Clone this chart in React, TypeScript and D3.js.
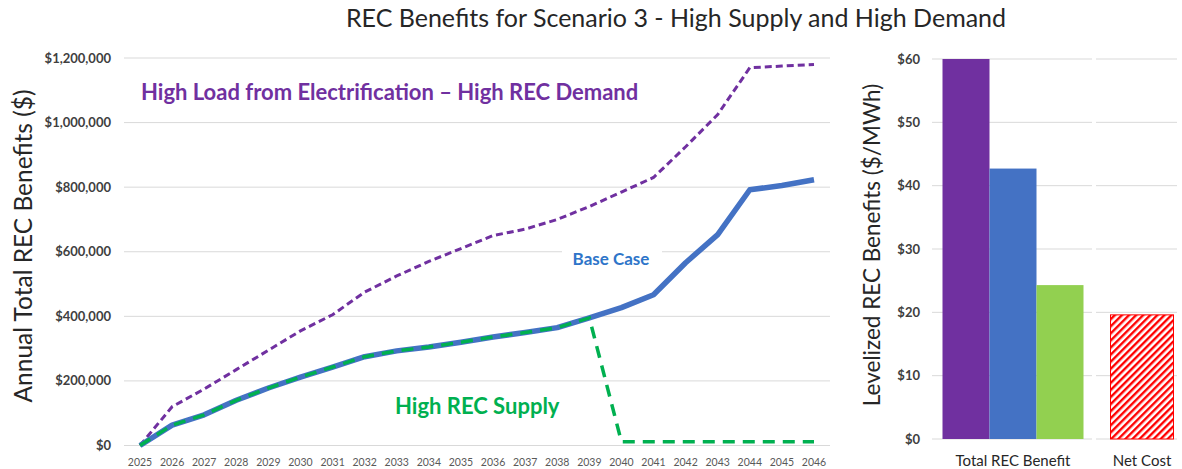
import React from "react";
import * as d3 from "d3";

const years = ["2025", "2026", "2027", "2028", "2029", "2030", "2031", "2032", "2033", "2034", "2035",
  "2036", "2037", "2038", "2039", "2040", "2041", "2042", "2043", "2044", "2045", "2046"];

// annual total REC benefits ($)
const highDemand = [0, 120000, 175000, 235000, 295000, 355000, 405000, 475000, 525000, 570000, 610000,
  650000, 670000, 700000, 740000, 785000, 830000, 925000, 1025000, 1170000, 1175000, 1180000];
const baseCase = [0, 63000, 95000, 140000, 178000, 212000, 243000, 275000, 293000, 305000, 320000,
  336000, 350000, 365000, 395000, 427000, 467000, 566000, 653000, 792000, 805000, 823000];
const highSupply = [0, 63000, 95000, 140000, 178000, 212000, 243000, 275000, 293000, 305000, 320000,
  336000, 350000, 365000, 395000, 12000, 12000, 12000, 12000, 12000, 12000, 12000];

const leftTicks = [0, 200000, 400000, 600000, 800000, 1000000, 1200000];

// levelized ($/MWh)
const barCategories = ["Total REC Benefit", "Net Cost"];
const benefitSeries = ["High Load", "Base Case", "High REC Supply"];
const benefitValues = [60, 42.7, 24.3];
const netCost = 19.6;
const rightTicks = [0, 10, 20, 30, 40, 50, 60];

const font = "Lato, 'Open Sans', sans-serif";
const purple = "#7030A0";
const blue = "#4472C4";
const green = "#00B050";
const barColors = ["#7030A0", "#4472C4", "#92D050"];
const grid = "#D9D9D9";

const App = () => {
  const W = 1182, H = 469;
  const L = { left: 124, right: 830, top: 58, bottom: 445.5 };
  const R = { left: 932, right: 1177, top: 59, bottom: 439 };

  const x = d3.scalePoint<string>().domain(years).range([L.left + 16, L.right - 16]);
  const y = d3.scaleLinear().domain([0, 1200000]).range([L.bottom, L.top]);

  const line = (vals: number[]) =>
    d3.line<number>()
      .x((d, i) => x(years[i]) as number)
      .y(d => y(d))(vals) as string;

  const yR = d3.scaleLinear().domain([0, 60]).range([R.bottom, R.top]);
  const xR = d3.scalePoint<string>().domain(barCategories).range([R.left + 81, R.right - 35]);
  const sub = d3.scaleBand<string>().domain(benefitSeries).range([-70.5, 70.5]);
  const netW = 63;

  const fmt = d3.format(",");

  return (
    <svg width={W} height={H} style={{ position: "absolute", left: 0, top: 0, background: "#fff" }}>
      <defs>
        <pattern id="hatch" patternUnits="userSpaceOnUse" width="5" height="5" patternTransform="rotate(45)">
          <rect width="5" height="5" fill="#fff" />
          <rect width="2.4" height="5" fill="#FF0000" />
        </pattern>
      </defs>

      <text x={676} y={27} textAnchor="middle" fontFamily={font} fontSize={25} fill="#262626">
        REC Benefits for Scenario 3 - High Supply and High Demand
      </text>

      {/* left chart */}
      {leftTicks.map(t => (
        <g key={t}>
          <line x1={L.left} x2={L.right} y1={y(t)} y2={y(t)} stroke={grid} strokeWidth={1} />
          <text x={111} y={y(t)} dy="0.35em" textAnchor="end" fontFamily={font} fontWeight="bold"
            fontSize={13} fill="#404040">${fmt(t)}</text>
        </g>
      ))}
      {years.map(yr => (
        <text key={yr} x={x(yr)} y={466} textAnchor="middle" fontFamily={font} fontSize={10.5}
          fill="#595959">{yr}</text>
      ))}
      <text transform={`translate(32,246) rotate(-90)`} textAnchor="middle"
        fontFamily={font} fontSize={24.5} fill="#262626">Annual Total REC Benefits ($)</text>

      <path d={line(highDemand)} fill="none" stroke={purple} strokeWidth={3} strokeDasharray="7,4" />
      <path d={line(baseCase)} fill="none" stroke={blue} strokeWidth={5.5} strokeLinejoin="round" />
      <path d={line(highSupply)} fill="none" stroke={green} strokeWidth={3.5} strokeDasharray="12,8" />

      <text x={141} y={100} fontFamily={font} fontWeight="bold" fontSize={22} fill={purple}>
        High Load from Electrification – High REC Demand
      </text>
      <rect x={562} y={247} width={100} height={24} fill="#fff" />
      <text x={611} y={265} textAnchor="middle" fontFamily={font} fontWeight="bold" fontSize={17}
        fill="#2E75C9">Base Case</text>
      <text x={395} y={414} fontFamily={font} fontWeight="bold" fontSize={22} fill={green}>
        High REC Supply
      </text>

      {/* right chart */}
      {rightTicks.map(t => (
        <g key={t}>
          <line x1={R.left} x2={1092} y1={yR(t)} y2={yR(t)} stroke={grid} strokeWidth={1} />
          <line x1={1096} x2={R.right} y1={yR(t)} y2={yR(t)} stroke={grid} strokeWidth={1} />
          <text x={920} y={yR(t)} dy="0.35em" textAnchor="end" fontFamily={font} fontWeight="bold"
            fontSize={13} fill="#404040">${t}</text>
        </g>
      ))}
      {benefitSeries.map((s, i) => (
        <rect key={s} x={(xR(barCategories[0]) as number) + (sub(s) as number)} y={yR(benefitValues[i])}
          width={sub.bandwidth()} height={yR(0) - yR(benefitValues[i])} fill={barColors[i]} />
      ))}
      <rect x={(xR(barCategories[1]) as number) - netW / 2} y={yR(netCost)} width={netW}
        height={yR(0) - yR(netCost)} fill="url(#hatch)" stroke="#FF0000" strokeWidth={1} />
      {barCategories.map(c => (
        <text key={c} x={xR(c)} y={466} textAnchor="middle" fontFamily={font} fontSize={15}
          fill="#262626">{c}</text>
      ))}
      <text transform={`translate(880,245) rotate(-90)`} textAnchor="middle"
        fontFamily={font} fontSize={22.5} fill="#262626">Levelized REC Benefits ($/MWh)</text>
    </svg>
  );
};

export default App;
